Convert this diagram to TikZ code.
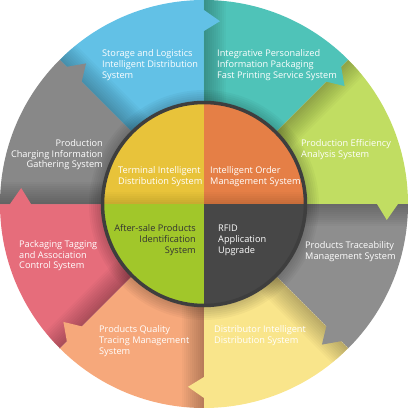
\documentclass[tikz,border=0pt]{standalone}
\usepackage{fontspec}
\setmainfont{Open Sans}
\definecolor{cBlue}{HTML}{62C1E6}
\definecolor{cTeal}{HTML}{4FC3B8}
\definecolor{cLime}{HTML}{C1DD62}
\definecolor{cGrayR}{HTML}{8E8E8E}
\definecolor{cYellow}{HTML}{F9E58B}
\definecolor{cSalmon}{HTML}{F6A87B}
\definecolor{cPink}{HTML}{E66D7B}
\definecolor{cGrayL}{HTML}{888888}
\definecolor{iYellow}{HTML}{E8C33A}
\definecolor{iOrange}{HTML}{E57F46}
\definecolor{iGreen}{HTML}{A1C72A}
\definecolor{iDark}{HTML}{474747}
\definecolor{iBorder}{HTML}{3E3E3E}
\begin{document}
\begin{tikzpicture}[x=1bp,y=1bp,
  lbl/.style={inner sep=0pt, text=white, font=\fontsize{9.2bp}{10.8bp}\selectfont},
  lblL/.style={lbl, anchor=west, align=left},
  lblR/.style={lbl, anchor=east, align=right}]
\useasboundingbox (-204,-204) rectangle (204,204);
\begin{scope}
\clip (0,0) circle (204);
% ring sectors
\foreach \a/\c in {90/cBlue,45/cTeal,0/cLime,-45/cGrayR,-90/cYellow,-135/cSalmon,180/cPink,135/cGrayL}{
  \fill[\c] (0,0) -- (\a:210) arc[start angle=\a, end angle=\a+45, radius=210] -- cycle;
}
% shadows along the counter-clockwise edge of each sector
\foreach \a in {90,45,0,-45,-90,-135,180,135}{
  \begin{scope}
    \clip (0,0) -- (\a:210) arc[start angle=\a, end angle=\a+45, radius=210] -- cycle;
    \begin{scope}[rotate=\a+45]
      \foreach \w in {2,4,...,22} \fill[black,opacity=0.022] (0,0) rectangle (210,-\w);
    \end{scope}
  \end{scope}
}
% arrow heads pointing clockwise
\foreach \a/\c [evaluate=\a as \b using \a-5, evaluate=\a as \d using \a+1] in {90/cBlue,45/cTeal,0/cLime,-45/cGrayR,-90/cYellow,-135/cSalmon,180/cPink,135/cGrayL}{
  \fill[\c] (\d:173) -- (\a:173) -- (\b:183.5) -- (\a:194) -- (\d:194) -- cycle;
}
% drop shadow of the inner circle
\foreach \r in {103,105,...,115} \fill[black,opacity=0.03] (0,-1) circle (\r);
\end{scope}
% inner circle
\begin{scope}
  \clip (0,0) circle (101.5);
  \fill[iYellow] (-102,0) rectangle (0,102);
  \fill[iOrange] (0,0) rectangle (102,102);
  \fill[iGreen] (-102,0) rectangle (0,-102);
  \fill[iDark] (0,0) rectangle (102,-102);
  \foreach \w in {2,4,...,12} \fill[black,opacity=0.02] (-102,0) rectangle (102,\w);
\end{scope}
\draw[iBorder, line width=3.5bp] (0,0) circle (101.5);
% labels
\node[lblL] (t1) at (-102,139) {Storage and Logistics\\Intelligent Distribution\\System};
\node[lblL] (t2) at (13,139) {Integrative Personalized\\Information Packaging\\Fast Printing Service System};
\node[lblL] (t3) at (97,54.5) {Production Efficiency\\Analysis System};
\node[lblL] (t4) at (101,-48) {Products Traceability\\Management System};
\node[lblL] (t5) at (10,-131.5) {Distributor Intelligent\\Distribution System};
\node[lblL] (t6) at (-105,-137) {Products Quality\\Tracing Management\\System};
\node[lblL] (t7) at (-185,-51.7) {Packaging Tagging\\and Association\\Control System};
\node[lblR] (t8) at (-101,49.3) {Production\\Charging Information\\Gathering System};
\node[lblL] (i1) at (-86,27.5) {Terminal Intelligent\\Distribution System};
\node[lblL] (i2) at (6,27.5) {Intelligent Order\\Management System};
\node[lblR, text=black!80] (i3) at (-8,-36.3) {After-sale Products\\Identification\\System};
\node[lblL] (i4) at (14,-36.3) {RFID\\Application\\Upgrade};
\end{tikzpicture}
\end{document}
